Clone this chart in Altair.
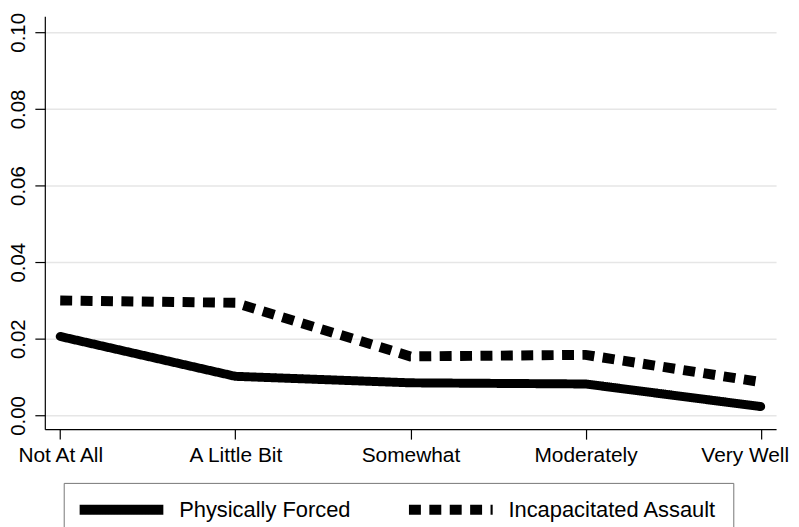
import altair as alt
import pandas as pd

categories = ["Not At All", "A Little Bit", "Somewhat", "Moderately", "Very Well"]
physically_forced = [0.0206, 0.0102, 0.0085, 0.0082, 0.0023]
incapacitated = [0.0300, 0.0294, 0.0154, 0.0158, 0.0087]
series_names = ["Physically Forced", "Incapacitated Assault"]
y_ticks = [0.0, 0.02, 0.04, 0.06, 0.08, 0.10]

rows = []
for c, v in zip(categories, physically_forced):
    rows.append({"cat": c, "val": v, "series": series_names[0]})
for c, v in zip(categories, incapacitated):
    rows.append({"cat": c, "val": v, "series": series_names[1]})
df = pd.DataFrame(rows)

FONT = "Liberation Sans, Arial, Helvetica, sans-serif"

x_enc = alt.X("cat:N", sort=categories,
              scale=alt.Scale(type="point", padding=0.088),
              axis=alt.Axis(title=None, labelAngle=0, labelFontSize=21, labelFont=FONT,
                            labelColor="#000", tickSize=10, tickColor="#000", tickWidth=1.2,
                            domainColor="#000", domainWidth=1.2, labelPadding=5, grid=False,
                            labelOffset={"expr": "datum.value == 'Very Well' ? -16 : 0"}))
y_enc = alt.Y("val:Q",
              scale=alt.Scale(domain=[-0.0036, 0.1042], nice=False, zero=False),
              axis=alt.Axis(title=None, values=y_ticks, format=".2f", labelAngle=270,
                            labelFontSize=20.5, labelFont=FONT, labelColor="#000",
                            tickSize=10, tickColor="#000", tickWidth=1.2,
                            domainColor="#000", domainWidth=1.2, labelPadding=6,
                            grid=True, gridColor="#e6e6e6", gridWidth=1.5))
dash_enc = alt.StrokeDash("series:N",
                          scale=alt.Scale(domain=series_names, range=[[1, 0], [12, 8.5]]),
                          legend=alt.Legend(title=None,
                                            orient="none", legendX=19, legendY=469,
                                            direction="horizontal", columns=2,
                                            symbolType="M-2,0H13.3", symbolSize=121,
                                            symbolStrokeWidth=10, symbolStrokeColor="#000",
                                            labelFontSize=22, labelFont=FONT, labelColor="#000",
                                            labelLimit=400,
                                            labelExpr="datum.label == 'Incapacitated Assault' ? datum.label + '\u00a0\u00a0\u00a0' : datum.label",
                                            labelOffset=78, columnPadding=38, padding=16,
                                            strokeColor="#777", cornerRadius=0))

base = alt.Chart(df).encode(x=x_enc, y=y_enc, strokeDash=dash_enc)

solid = base.transform_filter(alt.datum.series == series_names[0]).mark_line(
    color="#000", strokeWidth=9, strokeCap="round", strokeJoin="round")
dashed = base.transform_filter(alt.datum.series == series_names[1]).mark_line(
    color="#000", strokeWidth=10, strokeCap="butt", strokeJoin="miter")

chart = alt.layer(solid, dashed).properties(
    width=735, height=415,
    autosize=alt.AutoSizeParams(type="none"),
    padding={"left": 37, "top": 7, "right": 15, "bottom": 97},
    background="white",
).configure_view(stroke=None)

chart.save("out.html", embed_options={"renderer": "svg", "actions": False})
